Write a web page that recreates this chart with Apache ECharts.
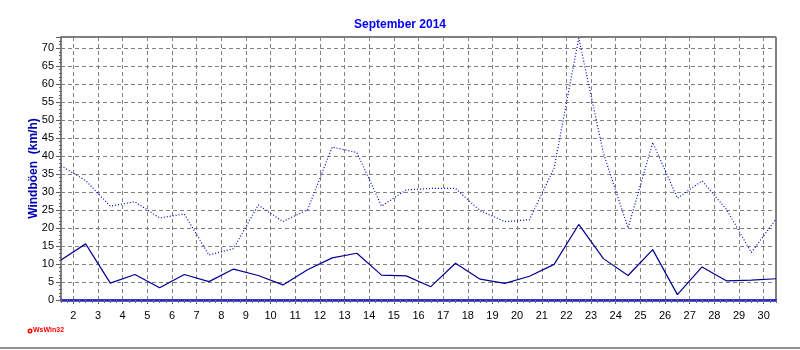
<!DOCTYPE html>
<html>
<head>
<meta charset="utf-8">
<script src="https://cdn.jsdelivr.net/npm/echarts@6/dist/echarts.min.js"></script>
<style>
  html, body { margin: 0; padding: 0; background: #fff; }
  #chart { width: 800px; height: 350px; }
</style>
</head>
<body>
<div id="chart"></div>
<script>
// Daily wind values, September 2014 (km/h)
const days = [1, 2, 3, 4, 5, 6, 7, 8, 9, 10, 11, 12, 13, 14, 15,
              16, 17, 18, 19, 20, 21, 22, 23, 24, 25, 26, 27, 28, 29, 30];
const gusts = [37.3, 33.2, 26.1, 27.3, 22.8, 23.9, 12.5, 14.3, 26.4, 21.8,
               25.1, 42.5, 41.0, 26.1, 30.6, 31.0, 31.0, 24.8, 21.8, 22.3,
               36.7, 72.8, 40.8, 20.0, 43.8, 28.3, 33.1, 25.1, 13.2, 22.5];
const meanWind = [11.1, 15.6, 4.7, 7.1, 3.4, 7.1, 5.1, 8.6, 6.8, 4.2,
                  8.4, 11.7, 13.0, 6.9, 6.7, 3.7, 10.2, 5.8, 4.6, 6.6,
                  9.9, 21.0, 11.5, 6.8, 14.0, 1.5, 9.2, 5.3, 5.5, 5.9];
// Day boundary labels on the time axis (midnight starting each day)
const dayLabels = [2, 3, 4, 5, 6, 7, 8, 9, 10, 11, 12, 13, 14, 15, 16,
                   17, 18, 19, 20, 21, 22, 23, 24, 25, 26, 27, 28, 29, 30];
const yMax = 73.1;
const titleText = 'September 2014';
const yName = 'Windböen  (km/h)';

const font = '"Liberation Sans", Arial, sans-serif';
// data points sit at midday, boundaries half a day earlier
const boundaryPos = dayLabels.map(d => d - 0.5);
const quarterCount = (days[days.length - 1] - days[0]) * 4;

const grid = { left: 61, right: 24, top: 37, bottom: 50 };

const chart = echarts.init(document.getElementById('chart'), null, { renderer: 'canvas' });
chart.setOption({
  animation: false,
  backgroundColor: '#ffffff',
  title: {
    text: titleText,
    left: 'center',
    top: 14,
    textStyle: { fontFamily: font, fontSize: 12, fontWeight: 'bold', color: '#0000ff' }
  },
  grid: [
    Object.assign({ show: true, borderColor: '#000000', borderWidth: 1, backgroundColor: 'transparent' }, grid),
    Object.assign({}, grid)
  ],
  xAxis: [
    {
      type: 'value',
      gridIndex: 0,
      min: days[0],
      max: days[days.length - 1],
      axisLine: { show: true, lineStyle: { color: '#2424c8', width: 2.5, type: [1, 1] } },
      axisTick: { show: true, customValues: boundaryPos, length: 4, lineStyle: { color: '#606060' } },
      axisLabel: {
        customValues: boundaryPos,
        formatter: v => String(Math.round(v + 0.5)),
        fontFamily: font, fontSize: 11, color: '#000000', margin: 10
      },
      splitLine: { show: true, lineStyle: { color: '#808080', width: 1, type: [4, 3] } }
    },
    {
      // six-hour marks along the time axis
      type: 'value',
      gridIndex: 1,
      min: 0,
      max: quarterCount,
      interval: 1,
      axisLine: { show: false },
      axisTick: { show: true, length: 3, lineStyle: { color: '#707070' } },
      axisLabel: { show: false },
      splitLine: { show: false }
    }
  ],
  yAxis: [
    {
      type: 'value',
      gridIndex: 0,
      min: 0,
      max: yMax,
      interval: 5,
      name: yName,
      nameLocation: 'middle',
      nameGap: 21,
      nameMoveOverlap: false,
      nameTextStyle: { fontFamily: font, fontSize: 12, fontWeight: 'bold', color: '#0000b0' },
      axisLine: { show: true, lineStyle: { color: '#808080', width: 2 } },
      axisTick: { show: true, length: 5, lineStyle: { color: '#606060' } },
      minorTick: { show: true, splitNumber: 5, length: 2, lineStyle: { color: '#606060' } },
      axisLabel: {
        showMaxLabel: false,
        fontFamily: font, fontSize: 11, color: '#000000', margin: 7
      },
      splitLine: { show: true, lineStyle: { color: '#808080', width: 1, type: [4, 3] } }
    },
    { type: 'value', gridIndex: 1, show: false, min: 0, max: 1 }
  ],
  series: [
    {
      name: 'Böen',
      type: 'line',
      xAxisIndex: 0,
      yAxisIndex: 0,
      data: days.map((d, i) => [d, gusts[i]]),
      symbol: 'none',
      lineStyle: { color: '#0000c8', width: 1.2, type: [1, 2] },
      z: 3
    },
    {
      name: 'Wind',
      type: 'line',
      xAxisIndex: 0,
      yAxisIndex: 0,
      data: days.map((d, i) => [d, meanWind[i]]),
      symbol: 'none',
      lineStyle: { color: '#000090', width: 1.2 },
      z: 4
    }
  ],
  graphic: [
    { type: 'circle', shape: { cx: 30, cy: 331, r: 2.5 }, style: { fill: '#ff0000' } },
    { type: 'circle', shape: { cx: 30, cy: 331, r: 0.9 }, style: { fill: '#ffffff' } },
    {
      type: 'text', left: 33, top: 327,
      style: { text: 'WsWin32', fill: '#ff0000', font: 'bold 7px ' + font }
    },
    { type: 'rect', shape: { x: 0, y: 347, width: 800, height: 2 }, style: { fill: '#909090' } }
  ]
});
</script>
</body>
</html>
